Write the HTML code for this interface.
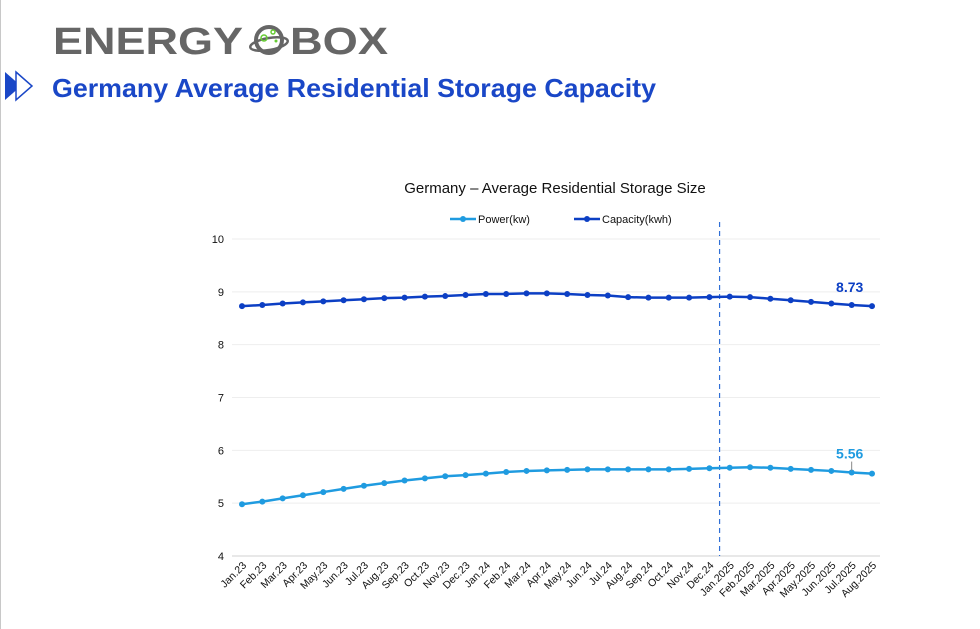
<!DOCTYPE html>
<html><head><meta charset="utf-8"><style>
body{margin:0;width:980px;height:629px;overflow:hidden;background:#fff;font-family:"Liberation Sans",sans-serif}
#edge{position:absolute;left:0;top:0;width:1px;height:629px;background:#c8c8c8}
</style></head><body>
<div id="edge"></div>
<svg width="980" height="629" style="position:absolute;left:0;top:0" id="svg">
<g>
<text x="53" y="54" font-family="Liberation Sans" font-weight="bold" font-size="38" fill="#666" textLength="190" lengthAdjust="spacingAndGlyphs">ENERGY</text>
<circle cx="269" cy="40" r="13" fill="none" stroke="#666" stroke-width="4"/>
<ellipse cx="269" cy="44" rx="19" ry="6" fill="none" stroke="#666" stroke-width="2.5" transform="rotate(-10 269 44)"/>
<circle cx="264" cy="38" r="3" fill="none" stroke="#6c3" stroke-width="1.5"/>
<circle cx="273" cy="32" r="2" fill="none" stroke="#6c3" stroke-width="1.5"/>
<circle cx="276" cy="41" r="1.5" fill="#6c3"/>
<text x="290" y="54" font-family="Liberation Sans" font-weight="bold" font-size="38" fill="#666" textLength="98" lengthAdjust="spacingAndGlyphs">BOX</text>
</g>
<g>
<polygon points="5,72 21,86 5,100" fill="#1a47c7"/>
<polygon points="16,72 32,86 16,100" fill="#fff" stroke="#1a47c7" stroke-width="1.5"/>
</g>
<text x="52" y="97" font-family="Liberation Sans" font-weight="bold" font-size="26" fill="#1a47c7" textLength="604" lengthAdjust="spacingAndGlyphs">Germany Average Residential Storage Capacity</text>
<text x="555" y="193" text-anchor="middle" font-size="15" fill="#111">Germany – Average Residential Storage Size</text>
<g>
<line x1="450" y1="219" x2="476" y2="219" stroke="#1f9be0" stroke-width="2.5"/><circle cx="463" cy="219" r="3" fill="#1f9be0"/>
<text x="478" y="223" font-size="11" fill="#111">Power(kw)</text>
<line x1="574" y1="219" x2="600" y2="219" stroke="#0c3fc4" stroke-width="2.5"/><circle cx="587" cy="219" r="3" fill="#0c3fc4"/>
<text x="602" y="223" font-size="11" fill="#111">Capacity(kwh)</text>
</g>
<g id="plot"></g>
</svg>
<script>
const categories=["Jan.23","Feb.23","Mar.23","Apr.23","May.23","Jun.23","Jul.23","Aug.23","Sep.23","Oct.23","Nov.23","Dec.23","Jan.24","Feb.24","Mar.24","Apr.24","May.24","Jun.24","Jul.24","Aug.24","Sep.24","Oct.24","Nov.24","Dec.24","Jan.2025","Feb.2025","Mar.2025","Apr.2025","May.2025","Jun.2025","Jul.2025","Aug.2025"];
const capacity=[8.73,8.75,8.78,8.80,8.82,8.84,8.86,8.88,8.89,8.91,8.92,8.94,8.96,8.96,8.97,8.97,8.96,8.94,8.93,8.90,8.89,8.89,8.89,8.90,8.91,8.90,8.87,8.84,8.81,8.78,8.75,8.73];
const power=[4.98,5.03,5.09,5.15,5.21,5.27,5.33,5.38,5.43,5.47,5.51,5.53,5.56,5.59,5.61,5.62,5.63,5.64,5.64,5.64,5.64,5.64,5.65,5.66,5.67,5.68,5.67,5.65,5.63,5.61,5.58,5.56];
const yTicks=[4,5,6,7,8,9,10];
const NS="http://www.w3.org/2000/svg";
const g=document.getElementById('plot');
const X=i=>242+i*(630/31);
const Y=v=>556-(v-4)*(317/6);
function el(t,a){const e=document.createElementNS(NS,t);for(const k in a)e.setAttribute(k,a[k]);g.appendChild(e);return e;}
yTicks.forEach(v=>{
 const l=el('line',{x1:232,x2:880,y1:Y(v),y2:Y(v),stroke:v==4?'#d0d0d0':'#eeeeee','stroke-width':1});
 
 
 const t=el('text',{x:224,y:Y(v)+4,'text-anchor':'end','font-size':11,fill:'#111'});t.textContent=v;
 
 
});
categories.forEach((c,i)=>{
 const t=el('text',{x:X(i)+5,y:566,'text-anchor':'end','font-size':10.5,fill:'#111',transform:`rotate(-45 ${X(i)+5} 566)`});t.textContent=c;
 
 
});
const dl=el('line',{x1:X(23.5),x2:X(23.5),y1:222,y2:556,stroke:'#2f6fd6','stroke-width':1.2,'stroke-dasharray':'5,4'});


function series(vals,col,name){
 const p=el('polyline',{points:vals.map((v,i)=>X(i)+','+Y(v)).join(' '),fill:'none',stroke:col,'stroke-width':2.5});
 
 
 vals.forEach((v,i)=>{const c=el('circle',{cx:X(i),cy:Y(v),r:3,fill:col});
  
  });
}
series(capacity,'#0c3fc4','capacity');
series(power,'#1f9be0','power');
const n=categories.length-1;
const t1=el('text',{x:X(n-1)-2,y:Y(capacity[n])-14,'text-anchor':'middle','font-size':14,'font-weight':'bold',fill:'#0c3fc4'});t1.textContent=capacity[n].toFixed(2);


el('line',{x1:X(n-1),x2:X(n-1),y1:Y(power[n])-12,y2:Y(power[n])-3,stroke:'#888','stroke-width':1});
const t2=el('text',{x:X(n-1)-2,y:Y(power[n])-15,'text-anchor':'middle','font-size':14,'font-weight':'bold',fill:'#1f9be0'});t2.textContent=power[n].toFixed(2);


</script>
</body></html>
